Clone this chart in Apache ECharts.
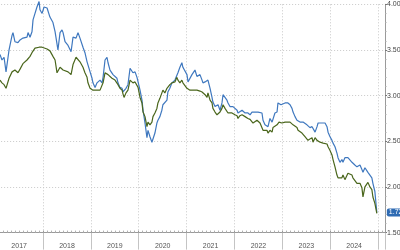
<!DOCTYPE html>
<html>
<head>
<meta charset="utf-8">
<script src="https://cdn.jsdelivr.net/npm/echarts@6/dist/echarts.min.js"></script>
<style>
html,body{margin:0;padding:0;background:#fff;}
#c{width:400px;height:250px;}
</style>
</head>
<body>
<div id="c"></div>
<script>
var dates = ['2017-02-07','2017-02-22','2017-03-10','2017-03-25','2017-04-17','2017-05-10','2017-05-17','2017-06-01','2017-06-24','2017-07-10','2017-08-01','2017-09-01','2017-09-09','2017-09-24','2017-10-09','2017-10-17','2017-11-01','2017-11-16','2017-12-02','2017-12-09','2017-12-25',
'2018-01-09','2018-02-01','2018-02-23','2018-03-18','2018-04-03','2018-04-18','2018-04-25','2018-05-11','2018-05-26','2018-06-03','2018-06-18','2018-07-11','2018-08-03','2018-08-18','2018-09-10','2018-09-25','2018-10-10','2018-11-02','2018-11-17','2018-12-03','2018-12-10','2018-12-26',
'2019-01-10','2019-01-17','2019-02-02','2019-02-17','2019-02-24','2019-03-12','2019-03-27','2019-04-04','2019-04-19','2019-05-04','2019-05-12','2019-05-27','2019-06-11','2019-06-19','2019-07-04','2019-07-19','2019-07-27','2019-08-11','2019-08-27','2019-09-03','2019-09-11','2019-09-26','2019-10-11','2019-10-27','2019-11-18','2019-12-04','2019-12-19','2019-12-27',
'2020-01-11','2020-01-26','2020-02-03','2020-02-18','2020-03-04','2020-03-12','2020-03-27','2020-04-11','2020-04-19','2020-05-04','2020-05-19','2020-05-27','2020-06-11','2020-06-26','2020-07-04','2020-07-19','2020-08-04','2020-08-11','2020-08-26','2020-09-11','2020-09-18','2020-10-04','2020-10-19','2020-10-27','2020-11-11','2020-11-26','2020-12-04','2020-12-19',
'2021-01-04','2021-01-12','2021-01-27','2021-02-11','2021-02-19','2021-03-06','2021-03-21','2021-03-29','2021-04-13','2021-04-29','2021-05-06','2021-05-22','2021-06-06','2021-06-13','2021-06-29','2021-07-14','2021-07-21','2021-08-06','2021-08-21','2021-08-29','2021-09-13','2021-09-28','2021-10-06','2021-10-21','2021-11-05','2021-11-13','2021-11-28','2021-12-13','2021-12-21',
'2022-01-05','2022-01-21','2022-01-28','2022-02-12','2022-02-28','2022-03-07','2022-03-23','2022-04-07','2022-04-14','2022-04-30','2022-05-15','2022-05-23','2022-06-07','2022-06-22','2022-06-30','2022-07-15','2022-07-30','2022-08-07','2022-08-22','2022-09-06','2022-09-14','2022-09-29','2022-10-15','2022-10-22','2022-11-06','2022-11-22','2022-11-29','2022-12-07','2022-12-22','2022-12-29',
'2023-01-06','2023-01-22','2023-02-06','2023-02-13','2023-03-01','2023-03-16','2023-03-24','2023-04-08','2023-04-23','2023-05-01','2023-05-16','2023-05-31','2023-06-08','2023-06-23','2023-07-08','2023-07-16','2023-07-31','2023-08-16','2023-08-23','2023-09-08','2023-09-23','2023-10-01','2023-10-16','2023-10-31','2023-11-08','2023-11-23','2023-12-08','2023-12-16','2023-12-31',
'2024-01-15','2024-01-23','2024-02-07','2024-02-22','2024-03-01','2024-03-16','2024-03-31','2024-04-08','2024-04-23','2024-05-08','2024-05-16','2024-05-31','2024-06-16','2024-06-23','2024-07-08','2024-07-24','2024-07-31','2024-08-16','2024-08-31','2024-09-08','2024-09-23','2024-10-08','2024-10-16','2024-10-31','2024-11-15','2024-11-23','2024-12-08','2024-12-23'];

var blueSeries = [3.45,3.39,3.42,3.26,3.50,3.66,3.69,3.59,3.58,3.61,3.63,3.64,3.69,3.64,3.70,3.83,3.90,3.97,4.03,3.94,3.90,
3.97,3.96,3.86,3.80,3.70,3.69,3.50,3.69,3.72,3.69,3.59,3.55,3.48,3.64,3.63,3.69,3.63,3.53,3.47,3.37,3.36,3.26,
3.19,3.14,3.09,3.14,3.12,3.17,3.14,3.20,3.39,3.42,3.36,3.28,3.26,3.23,3.25,3.19,3.14,3.09,3.08,3.04,3.03,3.08,3.12,3.30,3.25,3.26,3.20,3.15,
3.06,2.95,2.84,2.70,2.54,2.62,2.55,2.49,2.48,2.59,2.70,2.73,2.77,2.84,2.90,2.88,2.95,3.04,3.08,3.14,3.12,3.17,3.19,3.25,3.31,3.36,3.31,3.30,
3.23,3.15,3.17,3.23,3.25,3.28,3.21,3.20,3.23,3.17,3.14,3.15,3.14,3.17,3.08,2.98,2.93,2.88,2.86,2.90,2.84,2.92,3.01,3.03,2.95,2.92,2.88,2.90,2.88,
2.86,2.84,2.81,2.79,2.84,2.82,2.81,2.82,2.81,2.79,2.82,2.81,2.82,2.81,2.82,2.82,2.81,2.73,2.68,2.70,2.66,2.75,2.71,2.73,2.81,2.82,2.92,2.93,2.90,2.88,
2.90,2.92,2.90,2.92,2.90,2.86,2.82,2.77,2.73,2.71,2.71,2.70,2.71,2.70,2.68,2.66,2.65,2.66,2.65,2.60,2.66,2.70,2.71,2.70,2.71,2.70,2.66,2.60,2.55,
2.51,2.48,2.44,2.37,2.32,2.27,2.30,2.27,2.32,2.30,2.32,2.30,2.27,2.26,2.24,2.22,2.21,2.24,2.19,2.16,2.21,2.19,2.16,2.13,2.10,2.04,1.95,1.72];

var greenSeries = [3.17,3.14,3.12,3.08,3.19,3.26,3.27,3.28,3.25,3.29,3.35,3.39,3.41,3.43,3.47,3.49,3.52,3.53,3.53,3.53,3.53,
3.52,3.51,3.49,3.43,3.39,3.25,3.27,3.31,3.30,3.28,3.30,3.26,3.23,3.34,3.42,3.41,3.37,3.31,3.25,3.20,3.14,3.08,
3.06,3.06,3.06,3.06,3.06,3.06,3.08,3.14,3.25,3.26,3.23,3.21,3.19,3.18,3.17,3.15,3.12,3.08,3.06,3.02,2.98,3.03,3.06,3.17,3.14,3.15,3.14,3.09,
2.98,2.92,2.82,2.77,2.66,2.71,2.68,2.71,2.77,2.81,2.86,2.92,2.97,2.95,3.06,3.03,3.08,3.09,3.12,3.14,3.14,3.15,3.20,3.17,3.14,3.17,3.14,3.12,
3.08,3.07,3.06,3.06,3.06,3.08,3.06,3.06,3.05,3.04,3.03,3.01,2.98,3.03,2.95,2.92,2.86,2.82,2.79,2.81,2.82,2.86,2.90,2.86,2.84,2.81,2.79,2.81,2.80,
2.79,2.78,2.75,2.78,2.79,2.78,2.77,2.77,2.75,2.74,2.73,2.70,2.71,2.73,2.71,2.70,2.68,2.62,2.60,2.62,2.59,2.62,2.60,2.65,2.66,2.68,2.70,2.71,2.71,2.70,
2.71,2.71,2.73,2.71,2.71,2.70,2.68,2.66,2.65,2.62,2.60,2.59,2.57,2.55,2.54,2.51,2.52,2.54,2.49,2.54,2.51,2.49,2.49,2.49,2.48,2.49,2.47,2.44,2.40,
2.35,2.30,2.22,2.13,2.10,2.11,2.10,2.13,2.08,2.10,2.15,2.16,2.13,2.10,2.08,2.04,2.05,2.04,1.99,1.89,2.00,2.02,2.05,2.00,1.97,1.89,1.82,1.71];

var yearLabels = [2017,2018,2019,2020,2021,2022,2023,2024];
var yTicks = [1.5,2.0,2.5,3.0,3.5,4.0];

function decYear(s){
  var t = Date.parse(s);
  var y = new Date(t).getUTCFullYear();
  var a = Date.UTC(y,0,1), b = Date.UTC(y+1,0,1);
  return y + (t-a)/(b-a);
}
function pairs(vals){
  return vals.map(function(v,i){ return [decYear(dates[i]), v]; });
}

var chart = echarts.init(document.getElementById('c'), null, {renderer:'canvas'});
var font = 'Liberation Sans, Arial, sans-serif';
chart.setOption({
  animation:false,
  backgroundColor:'#ffffff',
  grid:{left:-4.86, right:15, top:4.3, bottom:17.4, containLabel:false, outerBoundsMode:'none'},
  xAxis:[{
    type:'value', min:yearLabels[0], max:2025.146, interval:1,
    axisLine:{show:true, lineStyle:{color:'#9a9a9a', width:1}},
    axisTick:{show:true, length:17, lineStyle:{color:'#c4c4c4'}},
    splitLine:{show:true, lineStyle:{color:'#c8c8c8', type:[1,2], width:1}},
    axisLabel:{show:true, fontSize:7, fontFamily:font, color:'#555', margin:10, padding:[0,0,0,48],
      formatter:function(v){ return yearLabels.indexOf(v) >= 0 ? String(v) : ''; }}
  },{
    type:'value', min:yearLabels[0], max:2025.146, interval:1, position:'bottom',
    axisLine:{show:false}, axisLabel:{show:false}, splitLine:{show:false},
    axisTick:{show:true, inside:true, length:2, lineStyle:{color:'#9a9a9a'}},
    minorTick:{show:true, splitNumber:12, length:2, lineStyle:{color:'#b0b0b0'}}
  }],
  yAxis:{
    type:'value', position:'right', min:yTicks[0], max:yTicks[yTicks.length-1], interval:0.5,
    axisLine:{show:true, lineStyle:{color:'#9a9a9a'}},
    axisTick:{show:true, length:2, lineStyle:{color:'#777'}},
    minorTick:{show:true, splitNumber:5, length:1.5, lineStyle:{color:'#aaa'}},
    splitLine:{show:true, lineStyle:{color:'#c8c8c8', type:[1,2], width:1}},
    axisLabel:{fontSize:7, fontFamily:font, color:'#444', margin:2,
      formatter:function(v){ return v.toFixed(2); }}
  },
  series:[{
    type:'line', name:'blue', data:pairs(blueSeries), showSymbol:false, clip:false,
    lineStyle:{color:'#3f78bf', width:1.2}, itemStyle:{color:'#3f78bf'}, z:2,
    endLabel:{show:true, distance:10, fontSize:7, fontFamily:font, color:'#ffffff',
      backgroundColor:'#2f6bb3', padding:[1,2,0,2], borderRadius:2,
      formatter:function(p){ return p.value[1].toFixed(2); }}
  },{
    type:'line', name:'green', data:pairs(greenSeries), showSymbol:false, clip:false,
    lineStyle:{color:'#4a661c', width:1.2}, itemStyle:{color:'#4a661c'}, z:3
  }]
});
</script>
</body>
</html>
